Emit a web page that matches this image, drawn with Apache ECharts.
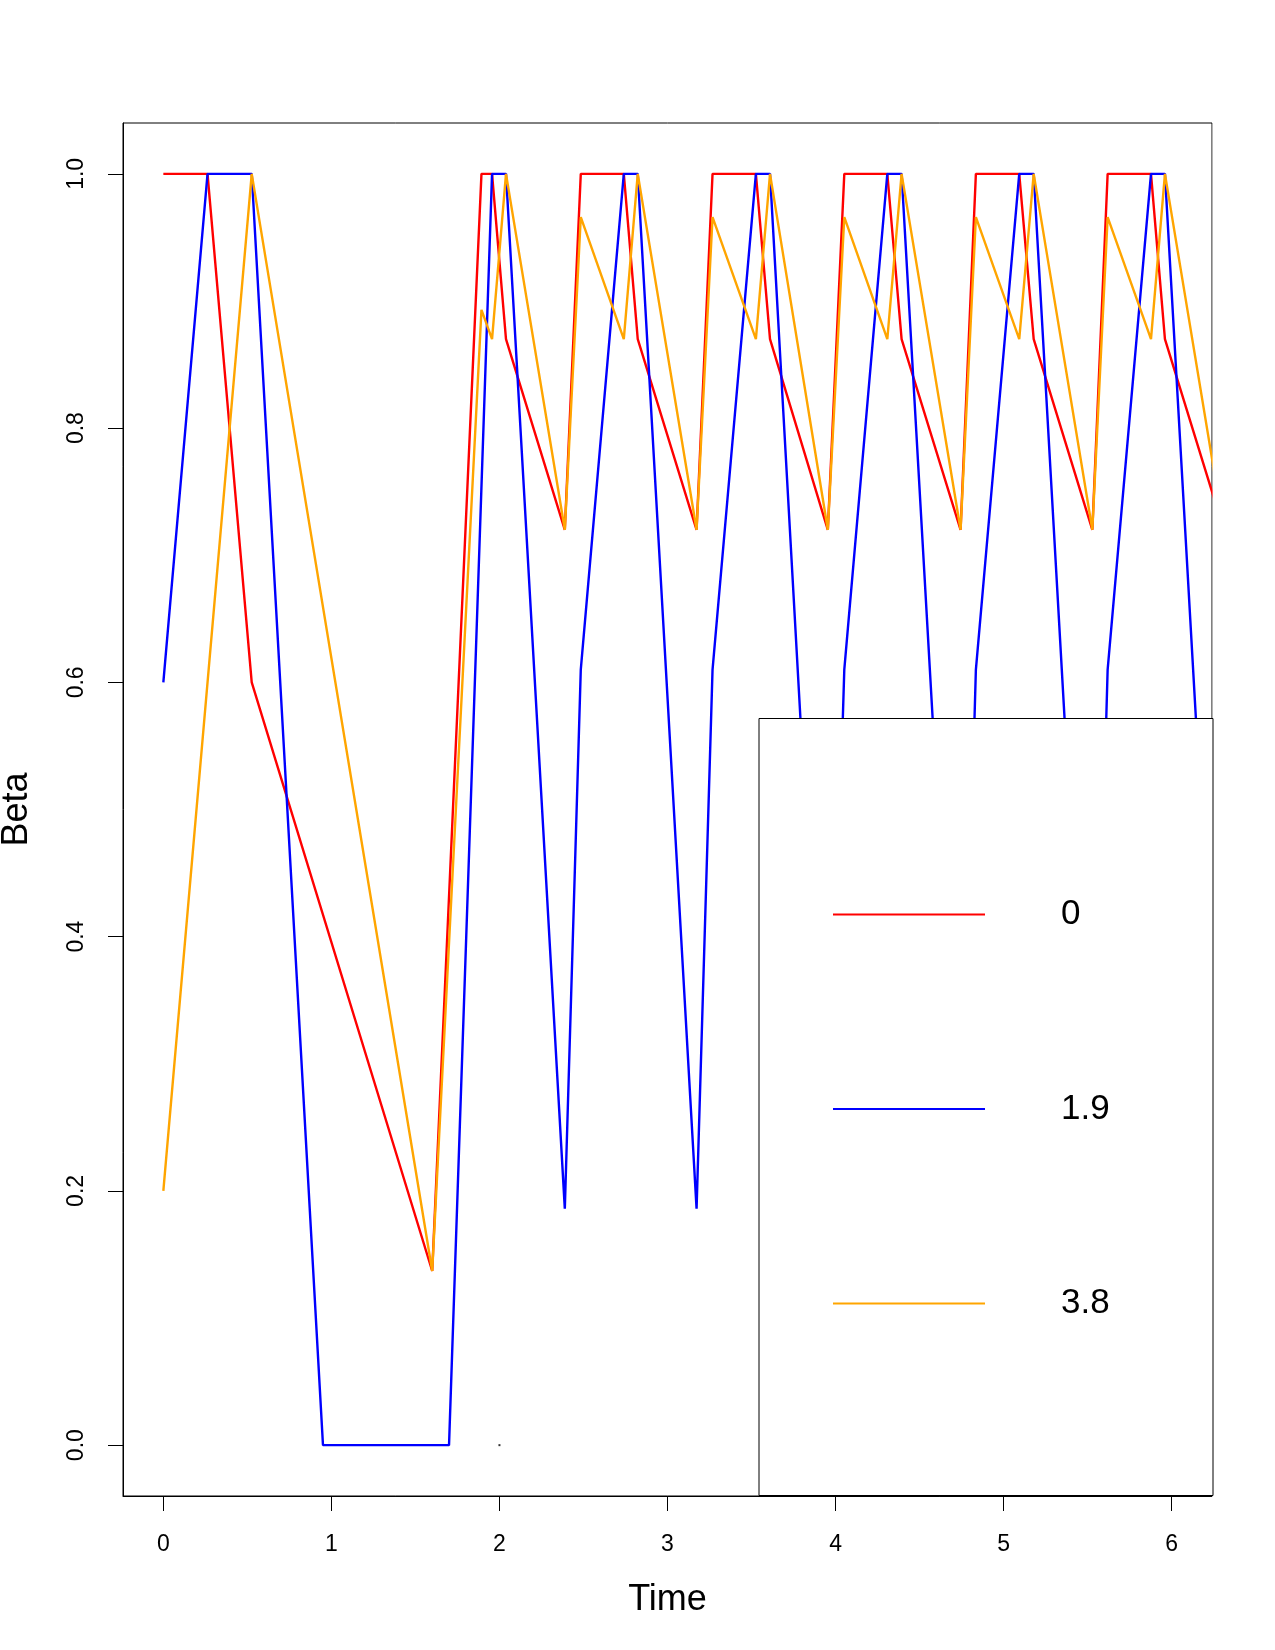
<!DOCTYPE html>
<html>
<head>
<meta charset="utf-8">
<script src="https://cdn.jsdelivr.net/npm/echarts@6/dist/echarts.min.js"></script>
<style>
  html, body { margin: 0; padding: 0; background: #fff; }
  #main { width: 1275px; height: 1650px; }
</style>
</head>
<body>
<div id="main"></div>
<script>
var Chart = echarts.init(document.getElementById('main'));

// legend names
var names = ['0', '1.9', '3.8'];
var colors = ['#FF0000', '#0000FF', '#FFA500'];

// series 0
var t0 = [0, 0.263, 0.526, 1.60, 1.893, 1.956, 2.039, 2.389, 2.484, 2.74, 2.823, 3.173, 3.268, 3.526, 3.61, 3.954, 4.052, 4.308, 4.393, 4.744, 4.835, 5.093, 5.179, 5.528, 5.619, 5.877, 5.96, 6.31];
var beta0 = [1, 1, 0.6, 0.137, 1, 1, 0.87, 0.72, 1, 1, 0.87, 0.72, 1, 1, 0.87, 0.72, 1, 1, 0.87, 0.72, 1, 1, 0.87, 0.72, 1, 1, 0.87, 0.72];

// series 1.9
var t1 = [0, 0.263, 0.526, 0.95, 1.60, 1.70, 1.956, 2.039, 2.389, 2.484, 2.74, 2.823, 3.173, 3.268, 3.526, 3.61, 3.954, 4.052, 4.308, 4.393, 4.744, 4.835, 5.093, 5.179, 5.528, 5.619, 5.877, 5.96, 6.31];
var beta1 = [0.6, 1, 1, 0, 0, 0, 1, 1, 0.186, 0.61, 1, 1, 0.186, 0.61, 1, 1, 0.186, 0.61, 1, 1, 0.186, 0.61, 1, 1, 0.186, 0.61, 1, 1, 0.186];

// series 3.8
var t2 = [0, 0.526, 1.60, 1.893, 1.956, 2.039, 2.389, 2.484, 2.74, 2.823, 3.173, 3.268, 3.526, 3.61, 3.954, 4.052, 4.308, 4.393, 4.744, 4.835, 5.093, 5.179, 5.528, 5.619, 5.877, 5.96, 6.31];
var beta2 = [0.2, 1, 0.137, 0.893, 0.87, 1, 0.72, 0.966, 0.87, 1, 0.72, 0.966, 0.87, 1, 0.72, 0.966, 0.87, 1, 0.72, 0.966, 0.87, 1, 0.72, 0.966, 0.87, 1, 0.72];

// stray point
var dotT = [2];
var dotBeta = [0];

var xTicks = [0, 1, 2, 3, 4, 5, 6];
var yTicks = [0, 0.2, 0.4, 0.6, 0.8, 1.0];

function pairs(t, v) {
    return t.map(function (x, i) { return [x, v[i]]; });
}

var font = 'Liberation Sans, Arial, sans-serif';
var allT = [t0, t1, t2];
var allB = [beta0, beta1, beta2];

var series = names.map(function (n, i) {
    return {
        name: n,
        type: 'line',
        data: pairs(allT[i], allB[i]),
        symbol: 'none',
        showSymbol: false,
        color: colors[i],
        lineStyle: { color: colors[i], width: 2.4 },
        animation: false
    };
});
series.push({
    type: 'scatter',
    data: pairs(dotT, dotBeta),
    symbol: 'rect',
    symbolSize: 2,
    itemStyle: { color: '#000' },
    silent: true,
    animation: false
});

option = {
    backgroundColor: '#fff',
    grid: {
        left: 123, right: 63, top: 123, bottom: 154,
        outerBoundsMode: 'none',
        containLabel: false,
        show: true,
        borderColor: '#000',
        borderWidth: 1,
        backgroundColor: 'transparent'
    },
    // white strip right of the plot box so clipped lines stop at the border
    // (line series sit at z 3, legend at z 4)
    graphic: [{
        type: 'rect',
        z: 3.5,
        silent: true,
        shape: { x: 1212.6, y: 100, width: 12, height: 1420 },
        style: { fill: '#fff' }
    }],
    xAxis: {
        type: 'value',
        min: -0.24,
        max: 6.24,
        name: 'Time',
        nameLocation: 'middle',
        nameGap: 86,
        nameTextStyle: { fontFamily: font, fontSize: 36, color: '#000' },
        axisLine: { show: true, onZero: false, lineStyle: { color: '#000', width: 1 } },
        axisTick: { show: true, length: 15, customValues: xTicks, lineStyle: { color: '#000' } },
        axisLabel: { customValues: xTicks, fontFamily: font, fontSize: 23, color: '#000', margin: 37 },
        splitLine: { show: false }
    },
    yAxis: {
        type: 'value',
        min: -0.04,
        max: 1.04,
        name: 'Beta',
        nameLocation: 'middle',
        nameGap: 88,
        nameTextStyle: { fontFamily: font, fontSize: 36, color: '#000' },
        axisLine: { show: true, onZero: false, lineStyle: { color: '#000', width: 1 } },
        axisTick: { show: true, length: 15, customValues: yTicks, lineStyle: { color: '#000' } },
        axisLabel: {
            customValues: yTicks,
            rotate: 90,
            fontFamily: font, fontSize: 23, color: '#000', margin: 35,
            formatter: function (v) { return v.toFixed(1); }
        },
        splitLine: { show: false }
    },
    legend: {
        data: names,
        orient: 'vertical',
        left: 759,
        top: 718.5,
        padding: [176, 92, 172, 74],
        itemGap: 154.5,
        itemWidth: 152,
        itemHeight: 2,
        icon: 'rect',
        backgroundColor: '#fff',
        borderColor: '#000',
        borderWidth: 1,
        borderRadius: 0,
        selectedMode: false,
        textStyle: {
            fontFamily: font, fontSize: 35, color: '#000',
            lineHeight: 40, width: 60, padding: [0, 0, 0, 71]
        }
    },
    series: series
};
Chart.setOption(option);
</script>
</body>
</html>
